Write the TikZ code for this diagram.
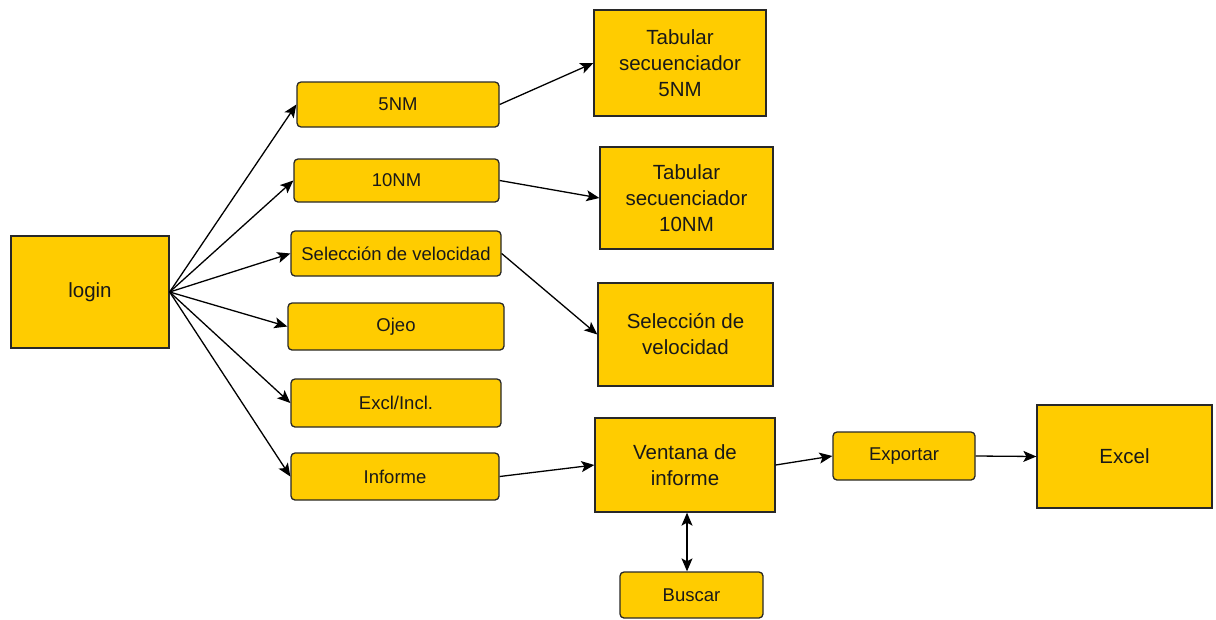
\documentclass[tikz,border=0pt]{standalone}
\usepackage{fontspec}
\setmainfont{Liberation Sans}
\usetikzlibrary{arrows.meta}
\definecolor{boxfill}{RGB}{255,204,0}
\definecolor{boxline}{RGB}{40,40,40}
\definecolor{txt}{RGB}{25,25,25}
\begin{document}
\begin{tikzpicture}[x=1pt,y=-1pt,
  base/.style={draw=boxline,fill=boxfill,line width=1.3pt,inner sep=0pt,align=center,text=txt},
  smallbox/.style={base,rounded corners=4pt,font=\fontsize{18.5}{22}\selectfont},
  bigbox/.style={base,font=\fontsize{20.5}{26}\selectfont},
  conn/.style={line width=1.3pt,draw=black,-{Stealth[length=13pt,width=11pt,inset=3pt]}},
  conn2/.style={line width=1.3pt,draw=black,{Stealth[length=13pt,width=11pt,inset=3pt]}-{Stealth[length=13pt,width=11pt,inset=3pt]}}]
\useasboundingbox (0,0) rectangle (1216,619);
\node[bigbox,minimum width=158pt,minimum height=112pt] (login) at (90,292) {login};
\node[smallbox,minimum width=202pt,minimum height=45pt] (n5) at (398,104.5) {5NM};
\node[smallbox,minimum width=205pt,minimum height=43pt] (n10) at (396.5,180.5) {10NM};
\node[smallbox,minimum width=210pt,minimum height=45pt] (sel) at (396,253.5) {Selección de velocidad};
\node[smallbox,minimum width=216pt,minimum height=47pt] (ojeo) at (396,326.5) {Ojeo};
\node[smallbox,minimum width=210pt,minimum height=48pt] (excl) at (396,403) {Excl/Incl.};
\node[smallbox,minimum width=208pt,minimum height=47pt] (informe) at (395,476.5) {Informe};
\node[bigbox,minimum width=172pt,minimum height=106pt] (tab5) at (680,63) {Tabular\\secuenciador\\5NM};
\node[bigbox,minimum width=173pt,minimum height=102pt] (tab10) at (686.5,198) {Tabular\\secuenciador\\10NM};
\node[bigbox,minimum width=175pt,minimum height=103pt] (selbig) at (685.5,334.5) {Selección de\\velocidad};
\node[bigbox,minimum width=180pt,minimum height=94pt] (ventana) at (685,465) {Ventana de\\informe};
\node[smallbox,minimum width=142pt,minimum height=48pt] (exportar) at (904,456) {Exportar};
\node[bigbox,minimum width=175pt,minimum height=103pt] (excel) at (1124.5,456.5) {Excel};
\node[smallbox,minimum width=143pt,minimum height=46pt] (buscar) at (691.5,595) {Buscar};
\draw[conn] (login.east) -- (n5.west);
\draw[conn] (login.east) -- (n10.west);
\draw[conn] (login.east) -- (sel.west);
\draw[conn] (login.east) -- (ojeo.west);
\draw[conn] (login.east) -- (excl.west);
\draw[conn] (login.east) -- (informe.west);
\draw[conn] (n5.east) -- (tab5.west);
\draw[conn] (n10.east) -- (tab10.west);
\draw[conn] (sel.east) -- (selbig.west);
\draw[conn] (informe.east) -- (ventana.west);
\draw[conn] (ventana.east) -- (exportar.west);
\draw[conn] (exportar.east) -- (excel.west);
\draw[conn2] ([xshift=2pt]ventana.south) -- ([xshift=2pt]ventana.south |- buscar.north);
\end{tikzpicture}
\end{document}
